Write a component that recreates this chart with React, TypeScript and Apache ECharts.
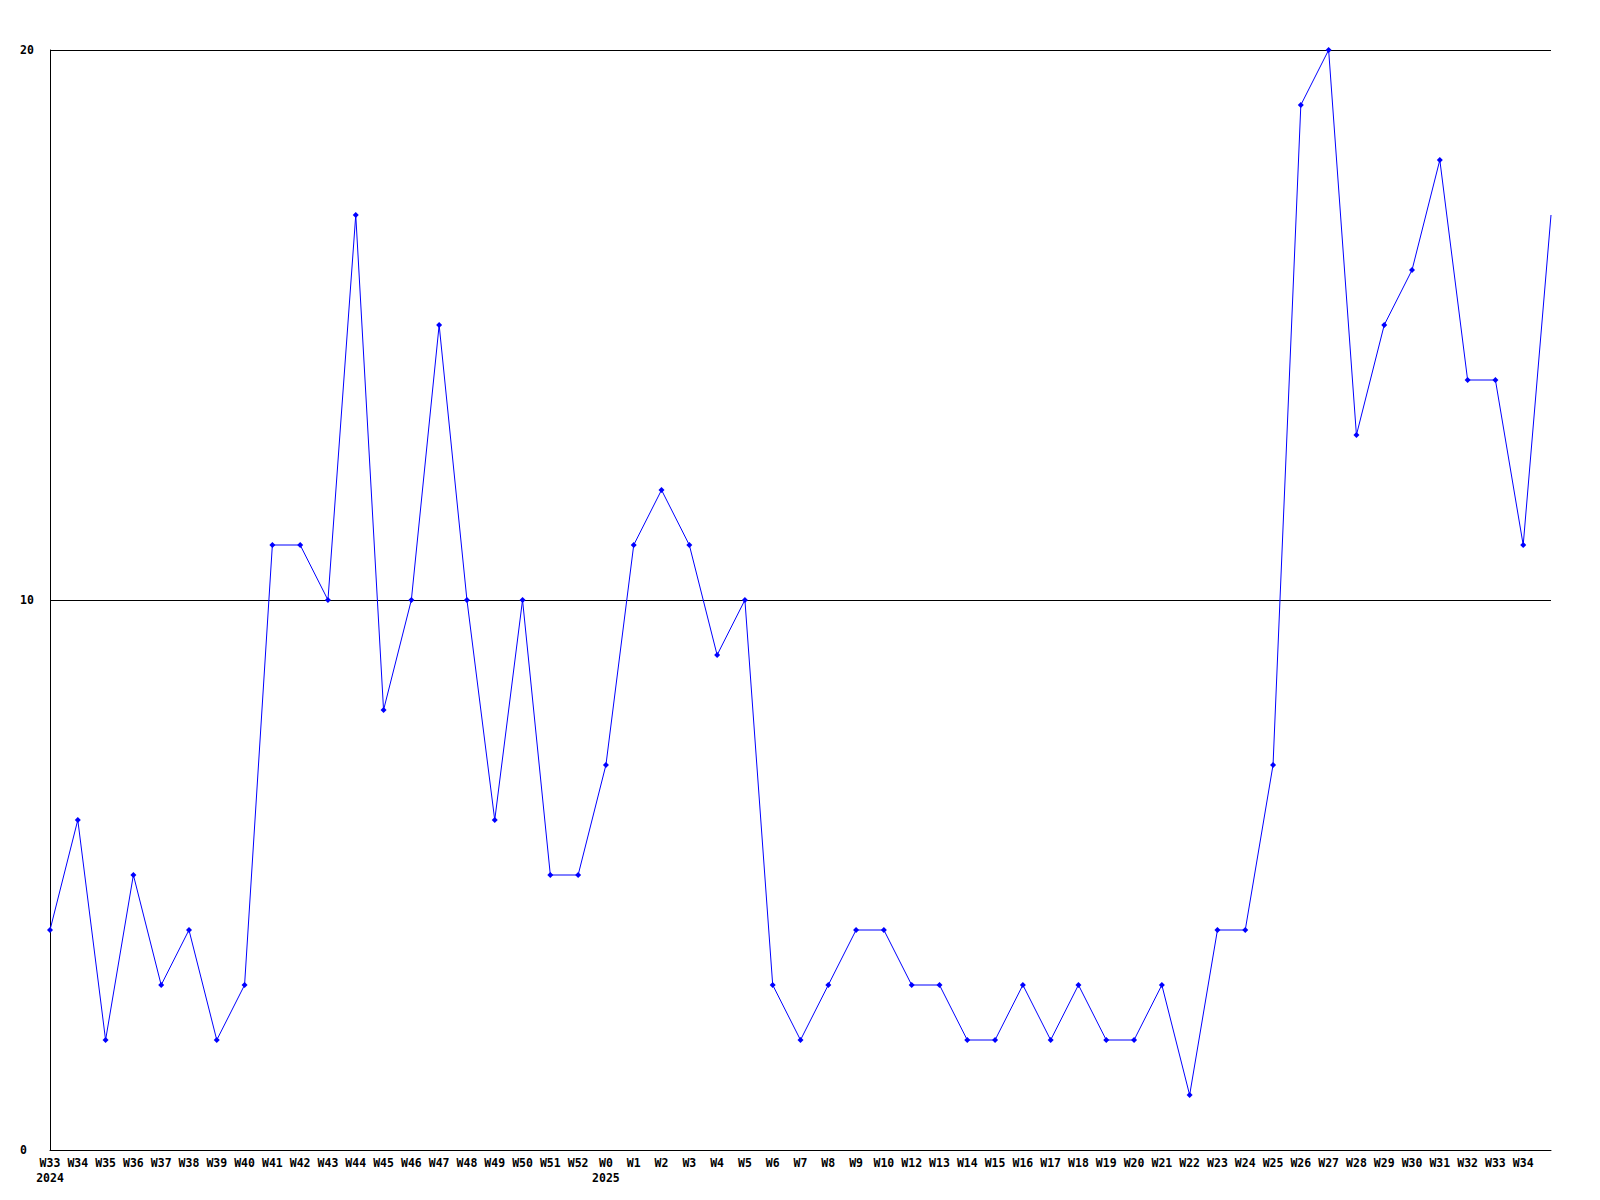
import React, { useEffect, useRef } from "react";
import * as echarts from "echarts";

const weekLabels = [
  "W33", "W34", "W35", "W36", "W37", "W38", "W39", "W40", "W41", "W42",
  "W43", "W44", "W45", "W46", "W47", "W48", "W49", "W50", "W51", "W52",
  "W0", "W1", "W2", "W3", "W4", "W5", "W6", "W7", "W8", "W9",
  "W10", "W12", "W13", "W14", "W15", "W16", "W17", "W18", "W19", "W20",
  "W21", "W22", "W23", "W24", "W25", "W26", "W27", "W28", "W29", "W30",
  "W31", "W32", "W33", "W34", "",
];

const yearLabels: Record<number, string> = { 0: "2024", 20: "2025" };

const values = [
  4, 6, 2, 5, 3, 4, 2, 3, 11, 11,
  10, 17, 8, 10, 15, 10, 6, 10, 5, 5,
  7, 11, 12, 11, 9, 10, 3, 2, 3, 4,
  4, 3, 3, 2, 2, 3, 2, 3, 2, 2,
  3, 1, 4, 4, 7, 19, 20, 13, 15, 16,
  18, 14, 14, 11, 17,
];

const yTicks = { min: 0, max: 20, interval: 10 };

export default function App() {
  const ref = useRef<HTMLDivElement>(null);

  useEffect(() => {
    document.body.style.margin = "0";
    const chart = echarts.init(ref.current!, undefined, { renderer: "svg" });
    const font = "'DejaVu Sans Mono', monospace";
    const lastIdx = values.length - 1;
    chart.setOption({
      animation: false,
      backgroundColor: "#ffffff",
      grid: { left: 50, right: 49, top: 50, bottom: 50, containLabel: false },
      xAxis: {
        type: "category",
        data: weekLabels,
        boundaryGap: false,
        axisLine: { show: true, lineStyle: { color: "#000", width: 1 } },
        axisTick: { show: false },
        splitLine: { show: false },
        axisLabel: {
          interval: 0,
          color: "#000",
          fontFamily: font,
          fontWeight: "bold",
          fontSize: 11.5,
          lineHeight: 15,
          margin: 5,
          align: "center",
          formatter: (v: string, i: number) =>
            yearLabels[i] ? `${v}\n${yearLabels[i]}` : v,
        },
      },
      yAxis: {
        type: "value",
        min: yTicks.min,
        max: yTicks.max,
        interval: yTicks.interval,
        axisLine: { show: true, lineStyle: { color: "#000", width: 1 } },
        axisTick: { show: false },
        splitLine: { show: true, lineStyle: { color: "#000", width: 1 } },
        axisLabel: {
          color: "#000",
          fontFamily: font,
          fontWeight: "bold",
          fontSize: 11.5,
          align: "left",
          margin: 30,
        },
      },
      series: [
        {
          type: "line",
          data: values.map((v, i) =>
            i === lastIdx ? { value: v, symbol: "none" } : v
          ),
          symbol: "diamond",
          symbolSize: 6,
          showAllSymbol: true,
          lineStyle: { color: "#0000ff", width: 1 },
          itemStyle: { color: "#0000ff" },
          emphasis: { disabled: true },
        },
      ],
    });
    return () => chart.dispose();
  }, []);

  return <div ref={ref} style={{ width: 1600, height: 1200 }} />;
}
